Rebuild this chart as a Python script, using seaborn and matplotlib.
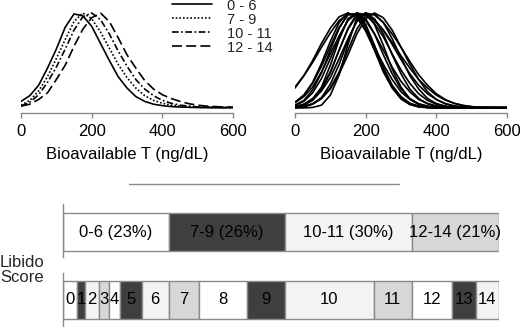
import numpy as np
import pandas as pd
import matplotlib
matplotlib.use("Agg")
import matplotlib.pyplot as plt
from matplotlib.lines import Line2D
import seaborn as sns

# bioavailable T grid (ng/dL)
bio_t = [0, 25, 50, 75, 100, 125, 150, 175, 200, 225, 250, 275, 300,
         325, 350, 375, 400, 425, 450, 475, 500, 525, 550, 575, 600]

# left panel: relative density per libido score group
group_names = ["0 - 6", "7 - 9", "10 - 11", "12 - 14"]
dens_0_6 = [0.07, 0.13, 0.24, 0.42, 0.62, 0.85, 0.99, 0.97, 0.86, 0.68, 0.50, 0.33, 0.21,
            0.12, 0.07, 0.04, 0.025, 0.015, 0.01, 0.007, 0.005, 0.004, 0.003, 0.003, 0.003]
dens_7_9 = [0.03, 0.08, 0.18, 0.33, 0.52, 0.72, 0.91, 1.00, 0.94, 0.80, 0.63, 0.46, 0.32,
            0.21, 0.13, 0.08, 0.05, 0.03, 0.02, 0.012, 0.008, 0.006, 0.005, 0.004, 0.004]
dens_10_11 = [0.02, 0.06, 0.14, 0.27, 0.43, 0.62, 0.82, 0.96, 1.00, 0.93, 0.78, 0.60, 0.44,
              0.30, 0.20, 0.13, 0.08, 0.05, 0.03, 0.02, 0.012, 0.008, 0.006, 0.005, 0.005]
dens_12_14 = [0.02, 0.04, 0.09, 0.16, 0.30, 0.45, 0.65, 0.83, 0.95, 1.00, 0.91, 0.74, 0.56,
              0.42, 0.29, 0.20, 0.14, 0.10, 0.07, 0.045, 0.03, 0.02, 0.015, 0.01, 0.01]

# right panel: individual score curves
score_curves = [
    [0.21, 0.34, 0.50, 0.68, 0.84, 0.96, 1.00, 0.95, 0.82, 0.64, 0.46, 0.30, 0.17,
     0.09, 0.044, 0.02, 0.01, 0.005, 0.005, 0.005, 0.005, 0.005, 0.005, 0.005, 0.005],
    [0.22, 0.34, 0.48, 0.64, 0.79, 0.92, 0.99, 0.99, 0.92, 0.78, 0.61, 0.43, 0.28,
     0.17, 0.09, 0.047, 0.022, 0.01, 0.005, 0.005, 0.005, 0.005, 0.005, 0.005, 0.005],
    [0.03, 0.08, 0.19, 0.37, 0.61, 0.84, 0.99, 0.97, 0.83, 0.61, 0.38, 0.21, 0.10,
     0.04, 0.014, 0.005, 0.003, 0.003, 0.003, 0.003, 0.003, 0.003, 0.003, 0.003, 0.003],
    [0.027, 0.07, 0.16, 0.31, 0.52, 0.74, 0.93, 1.00, 0.94, 0.78, 0.56, 0.36, 0.20,
     0.10, 0.044, 0.017, 0.006, 0.003, 0.003, 0.003, 0.003, 0.003, 0.003, 0.003, 0.003],
    [0.01, 0.03, 0.08, 0.19, 0.37, 0.61, 0.84, 0.99, 0.98, 0.89, 0.75, 0.57, 0.40,
     0.26, 0.15, 0.08, 0.04, 0.018, 0.008, 0.004, 0.003, 0.003, 0.003, 0.003, 0.003],
    [0.0, 0.001, 0.006, 0.03, 0.135, 0.35, 0.67, 0.95, 1.00, 0.88, 0.66, 0.41, 0.22,
     0.095, 0.036, 0.011, 0.003, 0.002, 0.002, 0.002, 0.002, 0.002, 0.002, 0.002, 0.002],
    [0.014, 0.037, 0.086, 0.18, 0.32, 0.52, 0.73, 0.91, 1.00, 0.98, 0.90, 0.78, 0.64,
     0.49, 0.35, 0.24, 0.15, 0.09, 0.05, 0.026, 0.013, 0.006, 0.004, 0.003, 0.003],
    [0.004, 0.014, 0.04, 0.10, 0.21, 0.38, 0.61, 0.83, 0.97, 0.99, 0.90, 0.73, 0.53,
     0.34, 0.20, 0.10, 0.047, 0.02, 0.007, 0.003, 0.002, 0.002, 0.002, 0.002, 0.002],
    [0.006, 0.017, 0.044, 0.10, 0.20, 0.36, 0.56, 0.78, 0.94, 1.00, 0.95, 0.82, 0.64,
     0.46, 0.30, 0.17, 0.09, 0.044, 0.02, 0.008, 0.004, 0.003, 0.003, 0.003, 0.003],
    [0.008, 0.03, 0.09, 0.22, 0.45, 0.72, 0.94, 1.00, 0.88, 0.66, 0.41, 0.22, 0.095,
     0.036, 0.011, 0.004, 0.002, 0.002, 0.002, 0.002, 0.002, 0.002, 0.002, 0.002, 0.002],
    [0.056, 0.12, 0.22, 0.38, 0.57, 0.76, 0.92, 1.00, 0.98, 0.92, 0.82, 0.69, 0.55,
     0.42, 0.30, 0.21, 0.135, 0.083, 0.05, 0.028, 0.015, 0.007, 0.004, 0.003, 0.003],
    [0.06, 0.135, 0.27, 0.47, 0.70, 0.90, 1.00, 0.96, 0.81, 0.61, 0.40, 0.23, 0.12,
     0.05, 0.02, 0.007, 0.003, 0.002, 0.002, 0.002, 0.002, 0.002, 0.002, 0.002, 0.002],
    [0.004, 0.014, 0.044, 0.11, 0.25, 0.46, 0.71, 0.92, 1.00, 0.94, 0.78, 0.56, 0.36,
     0.20, 0.10, 0.044, 0.017, 0.006, 0.003, 0.003, 0.003, 0.003, 0.003, 0.003, 0.003],
    [0.014, 0.04, 0.10, 0.21, 0.38, 0.61, 0.83, 0.97, 0.99, 0.93, 0.82, 0.67, 0.51,
     0.36, 0.24, 0.15, 0.09, 0.047, 0.024, 0.011, 0.005, 0.003, 0.003, 0.003, 0.003],
    [0.06, 0.135, 0.26, 0.44, 0.65, 0.85, 0.98, 0.99, 0.86, 0.65, 0.43, 0.24, 0.115,
     0.048, 0.017, 0.006, 0.003, 0.003, 0.003, 0.003, 0.003, 0.003, 0.003, 0.003, 0.003],
]

# libido score distribution (% of men)
scores = [str(s) for s in range(15)]
score_pct = [3.2, 1.8, 3.2, 2.3, 2.5, 5.0, 6.2, 6.9, 11.0, 8.7, 20.4, 8.7, 9.2, 5.5, 5.3]
group_of_score = [0, 0, 0, 0, 0, 0, 0, 1, 1, 1, 2, 2, 3, 3, 3]
group_labels = ["0-6 (23%)", "7-9 (26%)", "10-11 (30%)", "12-14 (21%)"]

shades = ["#ffffff", "#3f3f3f", "#f3f3f3", "#d7d7d7"]
edge_col = "#8a8a8a"

sns.set_theme(style="white")
plt.rcParams["font.family"] = ["Liberation Sans", "DejaVu Sans"]


def style_curve_axis(ax):
    ax.set_xlim(0, 600)
    ax.set_ylim(-5 / 95, 1 + 8 / 95)
    ax.set_xticks([0, 200, 400, 600])
    ax.set_yticks([])
    for side in ["top", "right", "left"]:
        ax.spines[side].set_visible(False)
    ax.spines["bottom"].set_color(edge_col)
    ax.spines["bottom"].set_linewidth(1.0)
    ax.tick_params(axis="x", bottom=True, length=3.5, width=1.0, color=edge_col,
                   labelsize=12, pad=4.5, labelcolor="black")
    ax.set_xlabel("Bioavailable T (ng/dL)", fontsize=12, labelpad=5.5, color="black")
    ax.set_ylabel("")


fig = plt.figure(figsize=(5.2, 3.27), dpi=100)
ax_l = fig.add_axes([21 / 520, 1 - 113 / 327, 212 / 520, 108 / 327])
ax_r = fig.add_axes([295 / 520, 1 - 113 / 327, 212 / 520, 108 / 327])

left_df = pd.concat([
    pd.DataFrame({"bio": bio_t, "dens": d, "group": g})
    for g, d in zip(group_names, [dens_0_6, dens_7_9, dens_10_11, dens_12_14])
])
sns.lineplot(data=left_df, x="bio", y="dens", style="group", style_order=group_names,
             dashes={"0 - 6": "", "7 - 9": (1, 1.2), "10 - 11": (4, 1.5, 1, 1.5),
                     "12 - 14": (6, 2.5)},
             color="black", linewidth=1.2, ax=ax_l)
style_curve_axis(ax_l)
handles, labels = ax_l.get_legend_handles_labels()
ax_l.legend(handles, labels, loc="upper left", bbox_to_anchor=(0.71, 1.06),
            frameon=False, fontsize=10.5, handlelength=2.8, handletextpad=1.0,
            labelspacing=0.0, borderaxespad=0, borderpad=0)

right_df = pd.concat([
    pd.DataFrame({"bio": bio_t, "dens": c, "curve": i})
    for i, c in enumerate(score_curves)
])
sns.lineplot(data=right_df, x="bio", y="dens", units="curve", estimator=None,
             color="black", linewidth=1.2, ax=ax_r)
style_curve_axis(ax_r)

# separator line between the panels and the bars
fig.add_artist(Line2D([129 / 520, 399 / 520], [1 - 184 / 327] * 2,
                      color=edge_col, linewidth=1.0))

ax_g = fig.add_axes([63 / 520, 1 - 257 / 327, 436 / 520, 53 / 327])
ax_s = fig.add_axes([63 / 520, 0, 436 / 520, 54 / 327])

group_pct = [0.0] * len(group_labels)
for p, g in zip(score_pct, group_of_score):
    group_pct[g] += p

left = 0.0
for i, (w, lab) in enumerate(zip(group_pct, group_labels)):
    ax_g.barh(0, w, left=left, height=1, color=shades[i], edgecolor=edge_col, linewidth=1.0)
    ax_g.text(left + w / 2, 0, lab, ha="center", va="center", fontsize=12, color="black")
    left += w

left = 0.0
for i, (w, lab) in enumerate(zip(score_pct, scores)):
    ax_s.barh(0, w, left=left, height=1, color=shades[i % 4], edgecolor=edge_col, linewidth=1.0)
    ax_s.text(left + w / 2, 0, lab, ha="center", va="center", fontsize=12, color="black")
    left += w

total = sum(score_pct)
ax_g.set_ylim(-0.5 - 6 / 38, 0.5 + 9 / 38)
ax_s.set_ylim(-0.5 - 8 / 38, 0.5 + 8 / 38)
for ax in (ax_g, ax_s):
    ax.set_xlim(0, total)
    ax.set_xticks([])
    ax.set_yticks([])
    for side in ["top", "right", "bottom"]:
        ax.spines[side].set_visible(False)
    ax.spines["left"].set_color(edge_col)
    ax.spines["left"].set_linewidth(1.0)
    ax.set_facecolor("none")

fig.text(22 / 520, 1 - 270 / 327, "Libido\nScore", ha="center", va="center",
         fontsize=12, linespacing=0.95)

fig.savefig("out.png", dpi=100)
